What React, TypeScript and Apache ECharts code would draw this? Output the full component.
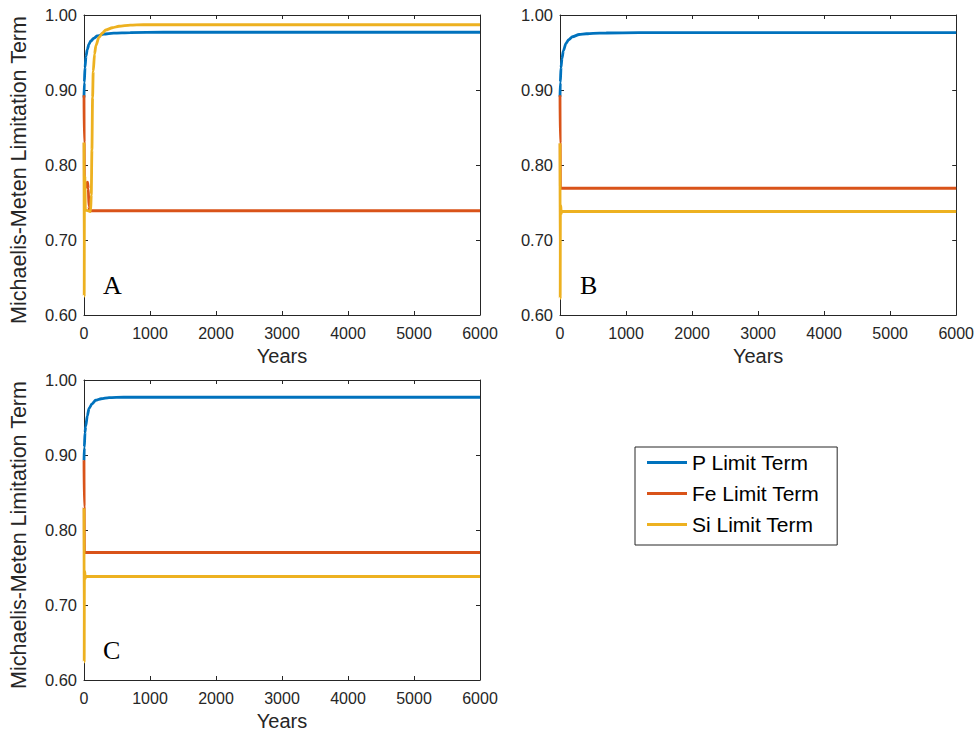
import React, { useEffect, useRef } from "react";
import * as echarts from "echarts";

// ---- Data (years, values) ----
const panelNames = ["A", "B", "C"];
const seriesNames = ["P Limit Term", "Fe Limit Term", "Si Limit Term"];
const seriesColors = ["#0072BD", "#D95319", "#EDB120"];
const xTicks = [0, 1000, 2000, 3000, 4000, 5000, 6000];
const yTicks = [0.6, 0.7, 0.8, 0.9, 1.0];

// Panel A
const aYearsP = [0, 5, 15, 30, 50, 75, 100, 150, 200, 300, 450, 700, 1200, 6000];
const aValsP = [0.89, 0.91, 0.93, 0.945, 0.954, 0.961, 0.965, 0.969, 0.972, 0.9745, 0.9758, 0.9765, 0.977, 0.977];
const aYearsFe = [0, 3, 6, 15, 25, 35, 45, 55, 65, 75, 85, 6000];
const aValsFe = [0.893, 0.83, 0.775, 0.778, 0.77, 0.776, 0.772, 0.777, 0.768, 0.745, 0.739, 0.739];
const aYearsSi = [0, 3, 6, 8, 14, 20, 100, 110, 120, 130, 140, 160, 180, 225, 280, 330, 430, 530, 700, 900, 6000];
const aValsSi = [0.83, 0.625, 0.738, 0.74, 0.785, 0.74, 0.738, 0.76, 0.82, 0.89, 0.925, 0.948, 0.959, 0.97, 0.976, 0.98, 0.983, 0.985, 0.9865, 0.987, 0.987];

// Panel B
const bYearsP = [0, 5, 15, 30, 50, 90, 130, 190, 290, 400, 500, 700, 1200, 6000];
const bValsP = [0.891, 0.91, 0.93, 0.942, 0.952, 0.962, 0.967, 0.971, 0.974, 0.975, 0.9756, 0.976, 0.9765, 0.9765];
const bYearsFe = [0, 3, 6, 6000];
const bValsFe = [0.893, 0.829, 0.769, 0.769];
const bYearsSi = [0, 3, 6, 12, 18, 25, 6000];
const bValsSi = [0.829, 0.622, 0.738, 0.746, 0.735, 0.738, 0.738];

// Panel C
const cYearsP = [0, 5, 15, 25, 50, 76, 120, 177, 260, 379, 600, 6000];
const cValsP = [0.893, 0.91, 0.93, 0.938, 0.952, 0.962, 0.968, 0.973, 0.975, 0.9765, 0.977, 0.977];
const cYearsFe = [0, 3, 6, 6000];
const cValsFe = [0.893, 0.831, 0.77, 0.77];
const cYearsSi = [0, 3, 6, 12, 18, 25, 6000];
const cValsSi = [0.829, 0.624, 0.738, 0.745, 0.735, 0.738, 0.738];

const panels = [
  [[aYearsP, aValsP], [aYearsFe, aValsFe], [aYearsSi, aValsSi]],
  [[bYearsP, bValsP], [bYearsFe, bValsFe], [bYearsSi, bValsSi]],
  [[cYearsP, cValsP], [cYearsFe, cValsFe], [cYearsSi, cValsSi]],
];

const zip = (xs: number[], ys: number[]) => xs.map((x, i) => [x, ys[i]]);

const FONT = "'Liberation Sans', Arial, Helvetica, sans-serif";
const AX = "#262626";

export default function App() {
  const ref = useRef<HTMLDivElement>(null);

  useEffect(() => {
    if (!ref.current) return;
    const chart = echarts.init(ref.current, undefined, { renderer: "svg" });

    const grids = [
      { left: 84, top: 15, width: 396, height: 300 },
      { left: 560, top: 15, width: 397, height: 300 },
      { left: 84, top: 380, width: 396, height: 300 },
    ];

    const xAxes: any[] = [];
    const yAxes: any[] = [];
    grids.forEach((_, g) => {
      const common = {
        type: "value",
        gridIndex: g,
        splitLine: { show: false },
        axisLine: { show: true, onZero: false, lineStyle: { color: AX, width: 1 } },
        axisTick: { show: true, inside: true, length: 4, lineStyle: { color: AX } },
      };
      xAxes.push({
        ...common,
        position: "bottom",
        min: xTicks[0],
        max: xTicks[xTicks.length - 1],
        interval: 1000,
        name: "Years",
        nameLocation: "middle",
        nameGap: 31,
        nameTextStyle: { fontSize: 20, color: AX, fontFamily: FONT },
        axisLabel: {
          fontSize: 16,
          color: AX,
          margin: 10,
          fontFamily: FONT,
          formatter: (v: number) => String(v),
        },
      });
      xAxes.push({
        ...common,
        position: "top",
        min: xTicks[0],
        max: xTicks[xTicks.length - 1],
        interval: 1000,
        axisLabel: { show: false },
      });
      yAxes.push({
        ...common,
        position: "left",
        min: yTicks[0],
        max: yTicks[yTicks.length - 1],
        interval: 0.1,
        name: g === 1 ? "" : "Michaelis-Meten Limitation Term",
        nameLocation: "middle",
        nameGap: 54,
        nameTextStyle: { fontSize: 21.5, color: AX, fontFamily: FONT, padding: [0, 10, 0, 0] },
        axisLabel: {
          fontSize: 16.5,
          color: AX,
          margin: 7,
          fontFamily: FONT,
          formatter: (v: number) => v.toFixed(2),
        },
      });
      yAxes.push({
        ...common,
        position: "right",
        min: yTicks[0],
        max: yTicks[yTicks.length - 1],
        interval: 0.1,
        axisLabel: { show: false },
      });
    });

    const series: any[] = [];
    panels.forEach((panel, g) => {
      panel.forEach(([xs, ys], s) => {
        series.push({
          type: "line",
          name: seriesNames[s],
          xAxisIndex: 2 * g,
          yAxisIndex: 2 * g,
          data: zip(xs as number[], ys as number[]),
          showSymbol: false,
          symbol: "none",
          smooth: 0.25,
          smoothMonotone: "x",
          lineStyle: { color: seriesColors[s], width: 2.8 },
          itemStyle: { color: seriesColors[s] },
          z: 2 + s,
        });
      });
    });

    const letterPos = [
      [103, 286],
      [580, 286],
      [103, 651],
    ];

    chart.setOption({
      animation: false,
      textStyle: { fontFamily: FONT },
      grid: grids.map((g) => ({ ...g, containLabel: false })),
      xAxis: xAxes,
      yAxis: yAxes,
      series,
      legend: {
        show: true,
        orient: "vertical",
        left: 635,
        top: 447,
        data: seriesNames,
        icon: "rect",
        itemWidth: 40,
        itemHeight: 3,
        itemGap: 10,
        padding: [5, 18, 10, 12],
        borderColor: AX,
        borderWidth: 1,
        backgroundColor: "#ffffff",
        textStyle: { fontSize: 21, color: "#000000", fontFamily: FONT },
      },
      graphic: panelNames.map((t, i) => ({
        type: "text",
        left: letterPos[i][0],
        top: letterPos[i][1] - 14,
        style: {
          text: t,
          fontSize: 26,
          fontFamily: "'Liberation Serif', 'Times New Roman', serif",
          fill: "#000000",
        },
      })),
    });

    return () => chart.dispose();
  }, []);

  return (
    <div
      ref={ref}
      style={{ position: "absolute", left: 0, top: 0, width: 977, height: 735, background: "#fff" }}
    />
  );
}
